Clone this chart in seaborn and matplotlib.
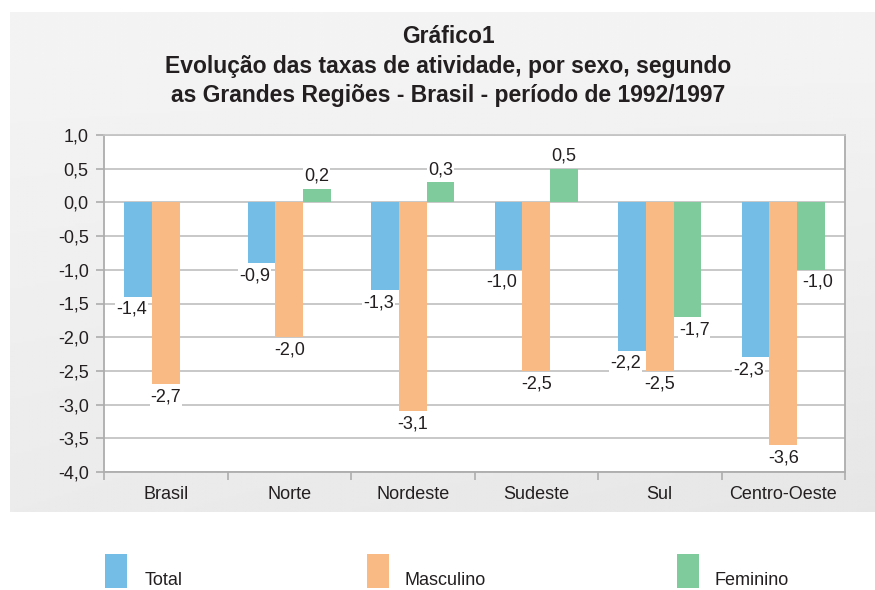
import numpy as np
import pandas as pd
import matplotlib
matplotlib.use("Agg")
import matplotlib.pyplot as plt
import seaborn as sns
from matplotlib.patches import Rectangle

# dados
regioes = ['Brasil', 'Norte', 'Nordeste', 'Sudeste', 'Sul', 'Centro-Oeste']
total = [-1.4, -0.9, -1.3, -1.0, -2.2, -2.3]
masculino = [-2.7, -2.0, -3.1, -2.5, -2.5, -3.6]
feminino = [np.nan, 0.2, 0.3, 0.5, -1.7, -1.0]
series = ['Total', 'Masculino', 'Feminino']
cores = ['#74BDE7', '#F9BA84', '#80CB9B']
y_ticks = [1.0, 0.5, 0.0, -0.5, -1.0, -1.5, -2.0, -2.5, -3.0, -3.5, -4.0]

titulo = ('Gráfico1\n'
          'Evolução das taxas de atividade, por sexo, segundo\n'
          'as Grandes Regiões - Brasil - período de 1992/1997')

df = pd.DataFrame({
    'regiao': regioes * 3,
    'sexo': np.repeat(series, len(regioes)),
    'valor': total + masculino + feminino,
})

def virgula(v):
    return f'{v:.1f}'.replace('.', ',')

sns.set_style('white')
plt.rcParams['font.family'] = ['Liberation Sans', 'DejaVu Sans']
texto = '#231F20'
cinza = '#ADADAD'

W, H = 875, 590
fig = plt.figure(figsize=(W / 100, H / 100), dpi=100)

# fundo cinza com leve degradê
bg = fig.add_axes([10 / W, 1 - 512 / H, 865 / W, 500 / H])
yy, xx = np.mgrid[0:1:200j, 0:1:300j]
grad = 0.957 - 0.035 * yy - 0.02 * xx * yy
bg.imshow(grad, cmap='gray', vmin=0, vmax=1, aspect='auto', extent=[0, 1, 0, 1], origin='upper')
bg.set_axis_off()

ax = fig.add_axes([104 / W, 1 - 472 / H, (845 - 104) / W, (472 - 135) / H])
ax.set_facecolor('white')

sns.barplot(data=df, x='regiao', y='valor', hue='sexo', hue_order=series,
            palette=cores, width=0.67, saturation=1, errorbar=None,
            legend=False, ax=ax, zorder=3, linewidth=0, edgecolor='none')

# rótulos de valores
dx = [-5, 0, 5]
for i, cont in enumerate(ax.containers):
    for bar in cont:
        h = bar.get_height()
        if np.isnan(h):
            continue
        x = bar.get_x() + bar.get_width() / 2
        if h < 0:
            ax.annotate(virgula(h), (x, h), xytext=(dx[i], -3), textcoords='offset points',
                        ha='center', va='top', fontsize=13, color=texto, zorder=2.5,
                        bbox=dict(boxstyle='square,pad=0.05', fc='white', ec='none'))
        else:
            ax.annotate(virgula(h), (x, h), xytext=(0, 3), textcoords='offset points',
                        ha='center', va='bottom', fontsize=13, color=texto, zorder=2.5,
                        bbox=dict(boxstyle='square,pad=0.05', fc='white', ec='none'))

ax.set_ylim(-4, 1)
ax.set_xlim(-0.5, len(regioes) - 0.5)
ax.set_yticks(y_ticks)
ax.set_yticklabels([virgula(v) for v in y_ticks], fontsize=13, color=texto)
ax.set_xticks(range(len(regioes)))
ax.set_xticklabels(regioes, fontsize=13, color=texto)
ax.set_xticks(np.arange(-0.5, len(regioes), 1), minor=True)
ax.set_xlabel('')
ax.set_ylabel('')

ax.set_axisbelow(True)
ax.yaxis.grid(True, color='#C4C4C4', lw=1.3)
ax.xaxis.grid(False)
for s in ax.spines.values():
    s.set_color(cinza)
    s.set_linewidth(1.3)
ax.spines['top'].set_color('#C4C4C4')

ax.tick_params(axis='x', which='major', length=0, pad=10)
ax.tick_params(axis='x', which='minor', length=6, color=cinza, width=1.2, bottom=True)
ax.tick_params(axis='y', length=6, color=cinza, width=1.2, pad=5, left=True)

fig.text(448 / W, 1 - 66 / H, titulo, ha='center', va='center', fontsize=16.5,
         fontweight='bold', color=texto, linespacing=1.38)

# legenda abaixo do quadro
ret_x = [105, 367, 677]
txt_x = [145, 405, 715]
for i, nome in enumerate(series):
    fig.patches.append(Rectangle((ret_x[i] / W, 1 - 588 / H), 22 / W, 34 / H,
                                 transform=fig.transFigure, fc=cores[i], ec='none'))
    fig.text(txt_x[i] / W, 1 - 585 / H, nome, ha='left', va='baseline',
             fontsize=13, color=texto)

fig.savefig('out.png', dpi=100, facecolor='white')
